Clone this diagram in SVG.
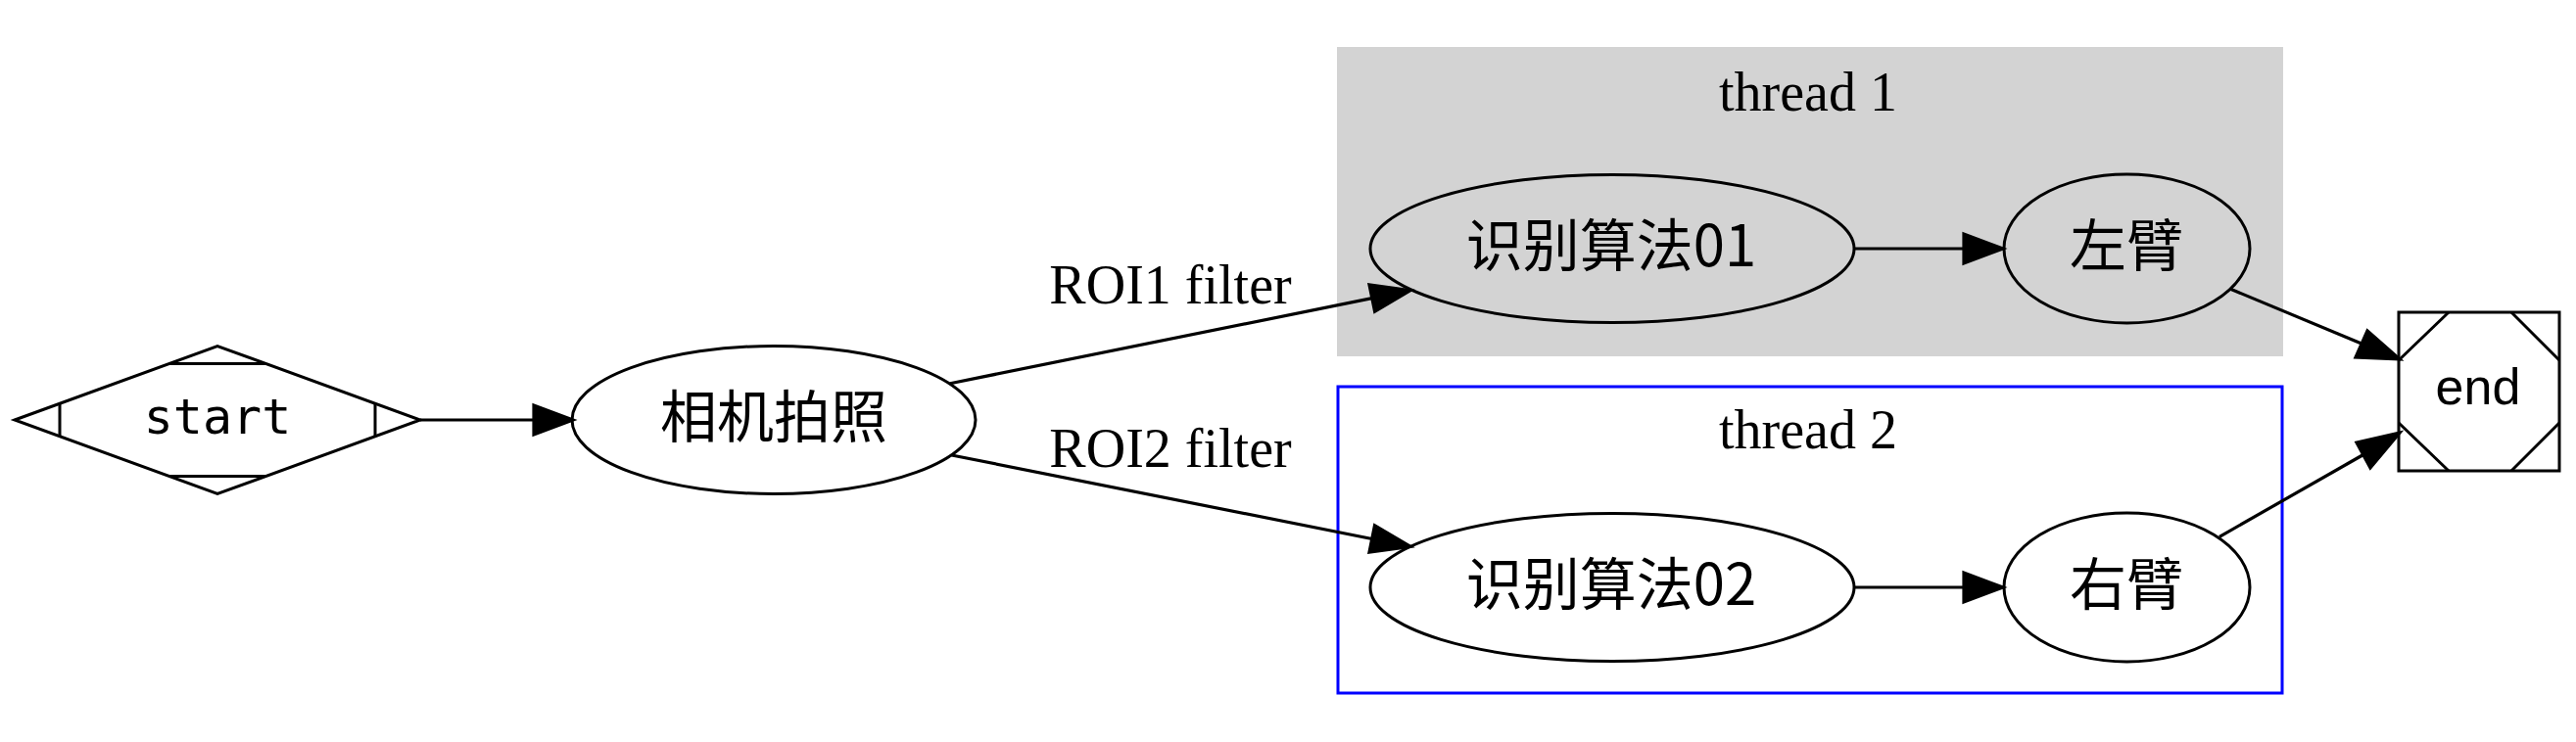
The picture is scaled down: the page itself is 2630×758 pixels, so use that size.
<svg xmlns="http://www.w3.org/2000/svg" width="2630" height="758" viewBox="0 0 2630 758">
<style>
.shape{fill:none;stroke:#000;stroke-width:3}
.edge{fill:none;stroke:#000;stroke-width:3.2}
.head{fill:#000;stroke:#000;stroke-width:3.2;stroke-linejoin:miter}
.cjk{font-family:"Noto Sans CJK SC","Noto Sans CJK JP",sans-serif;font-size:58px;text-anchor:middle;fill:#000}
.serif{font-family:"Liberation Serif","Times New Roman",serif;font-size:56px;text-anchor:middle;fill:#000}
.mono{font-family:"DejaVu Sans Mono","Liberation Mono",monospace;font-size:50px;text-anchor:middle;fill:#000}
.sans{font-family:"Liberation Sans",Arial,sans-serif;font-size:52px;text-anchor:middle;fill:#000}
</style>
<rect width="2630" height="758" fill="#fff"/>
<g id="cluster_thread1">
<rect x="1365" y="48" width="966" height="316" fill="#d3d3d3"/>
<text class="serif" x="1846" y="113">thread 1</text>
</g>
<g id="cluster_thread2">
<rect x="1366" y="395" width="964" height="313" fill="none" stroke="#0000ff" stroke-width="3"/>
<text class="serif" x="1846" y="458">thread 2</text>
</g>
<g id="connectors">
<line class="edge" x1="429" y1="429" x2="545" y2="429"/>
<polygon class="head" points="585,429 545,414 545,444"/>
<line class="edge" x1="970" y1="391.7" x2="1400.8" y2="304.6"/>
<polygon class="head" points="1440,296.7 1403.6,318.3 1398,290.9"/>
<line class="edge" x1="971.7" y1="465" x2="1400.8" y2="550.5"/>
<polygon class="head" points="1440,558.3 1398,564.2 1403.5,536.8"/>
<line class="edge" x1="1893" y1="254" x2="2005" y2="254"/>
<polygon class="head" points="2045,254 2005,239 2005,269"/>
<line class="edge" x1="1893" y1="600" x2="2005" y2="600"/>
<polygon class="head" points="2045,600 2005,585 2005,615"/>
<line class="edge" x1="2276.7" y1="295" x2="2411" y2="351"/>
<polygon class="head" points="2450,367 2405,365 2417,338"/>
<line class="edge" x1="2266" y1="548.3" x2="2412" y2="465"/>
<polygon class="head" points="2450,442 2406,452 2420,478"/>
<text class="serif" x="1195" y="310">ROI1 filter</text>
<text class="serif" x="1195" y="477">ROI2 filter</text>
</g>
<g id="start">
<polygon class="shape" points="15,429 222,353.5 429,429 222,504.5"/>
<line class="shape" x1="173" y1="371.5" x2="271" y2="371.5"/>
<line class="shape" x1="173" y1="486.5" x2="271" y2="486.5"/>
<line class="shape" x1="61" y1="412.2" x2="61" y2="445.8"/>
<line class="shape" x1="383" y1="412.2" x2="383" y2="445.8"/>
<text class="mono" x="222" y="443">start</text>
</g>
<g id="camera">
<ellipse class="shape" cx="790" cy="429" rx="206" ry="75.5"/>
<text class="cjk" x="790" y="447">相机拍照</text>
</g>
<g id="algo01">
<ellipse class="shape" cx="1646" cy="254" rx="247" ry="75.5"/>
<text class="cjk" x="1645" y="272">识别算法01</text>
</g>
<g id="left_arm">
<ellipse class="shape" cx="2171.5" cy="254" rx="125.5" ry="76"/>
<text class="cjk" x="2171" y="272">左臂</text>
</g>
<g id="algo02">
<ellipse class="shape" cx="1646" cy="600" rx="247" ry="75.5"/>
<text class="cjk" x="1645" y="618">识别算法02</text>
</g>
<g id="right_arm">
<ellipse class="shape" cx="2171.5" cy="600" rx="125.5" ry="76"/>
<text class="cjk" x="2171" y="618">右臂</text>
</g>
<g id="end">
<rect class="shape" x="2449" y="319" width="164" height="162"/>
<line class="shape" x1="2500" y1="319" x2="2449" y2="368"/>
<line class="shape" x1="2564" y1="319" x2="2613" y2="368"/>
<line class="shape" x1="2613" y1="432" x2="2564" y2="481"/>
<line class="shape" x1="2500" y1="481" x2="2449" y2="432"/>
<text class="sans" x="2530" y="413">end</text>
</g>
</svg>
